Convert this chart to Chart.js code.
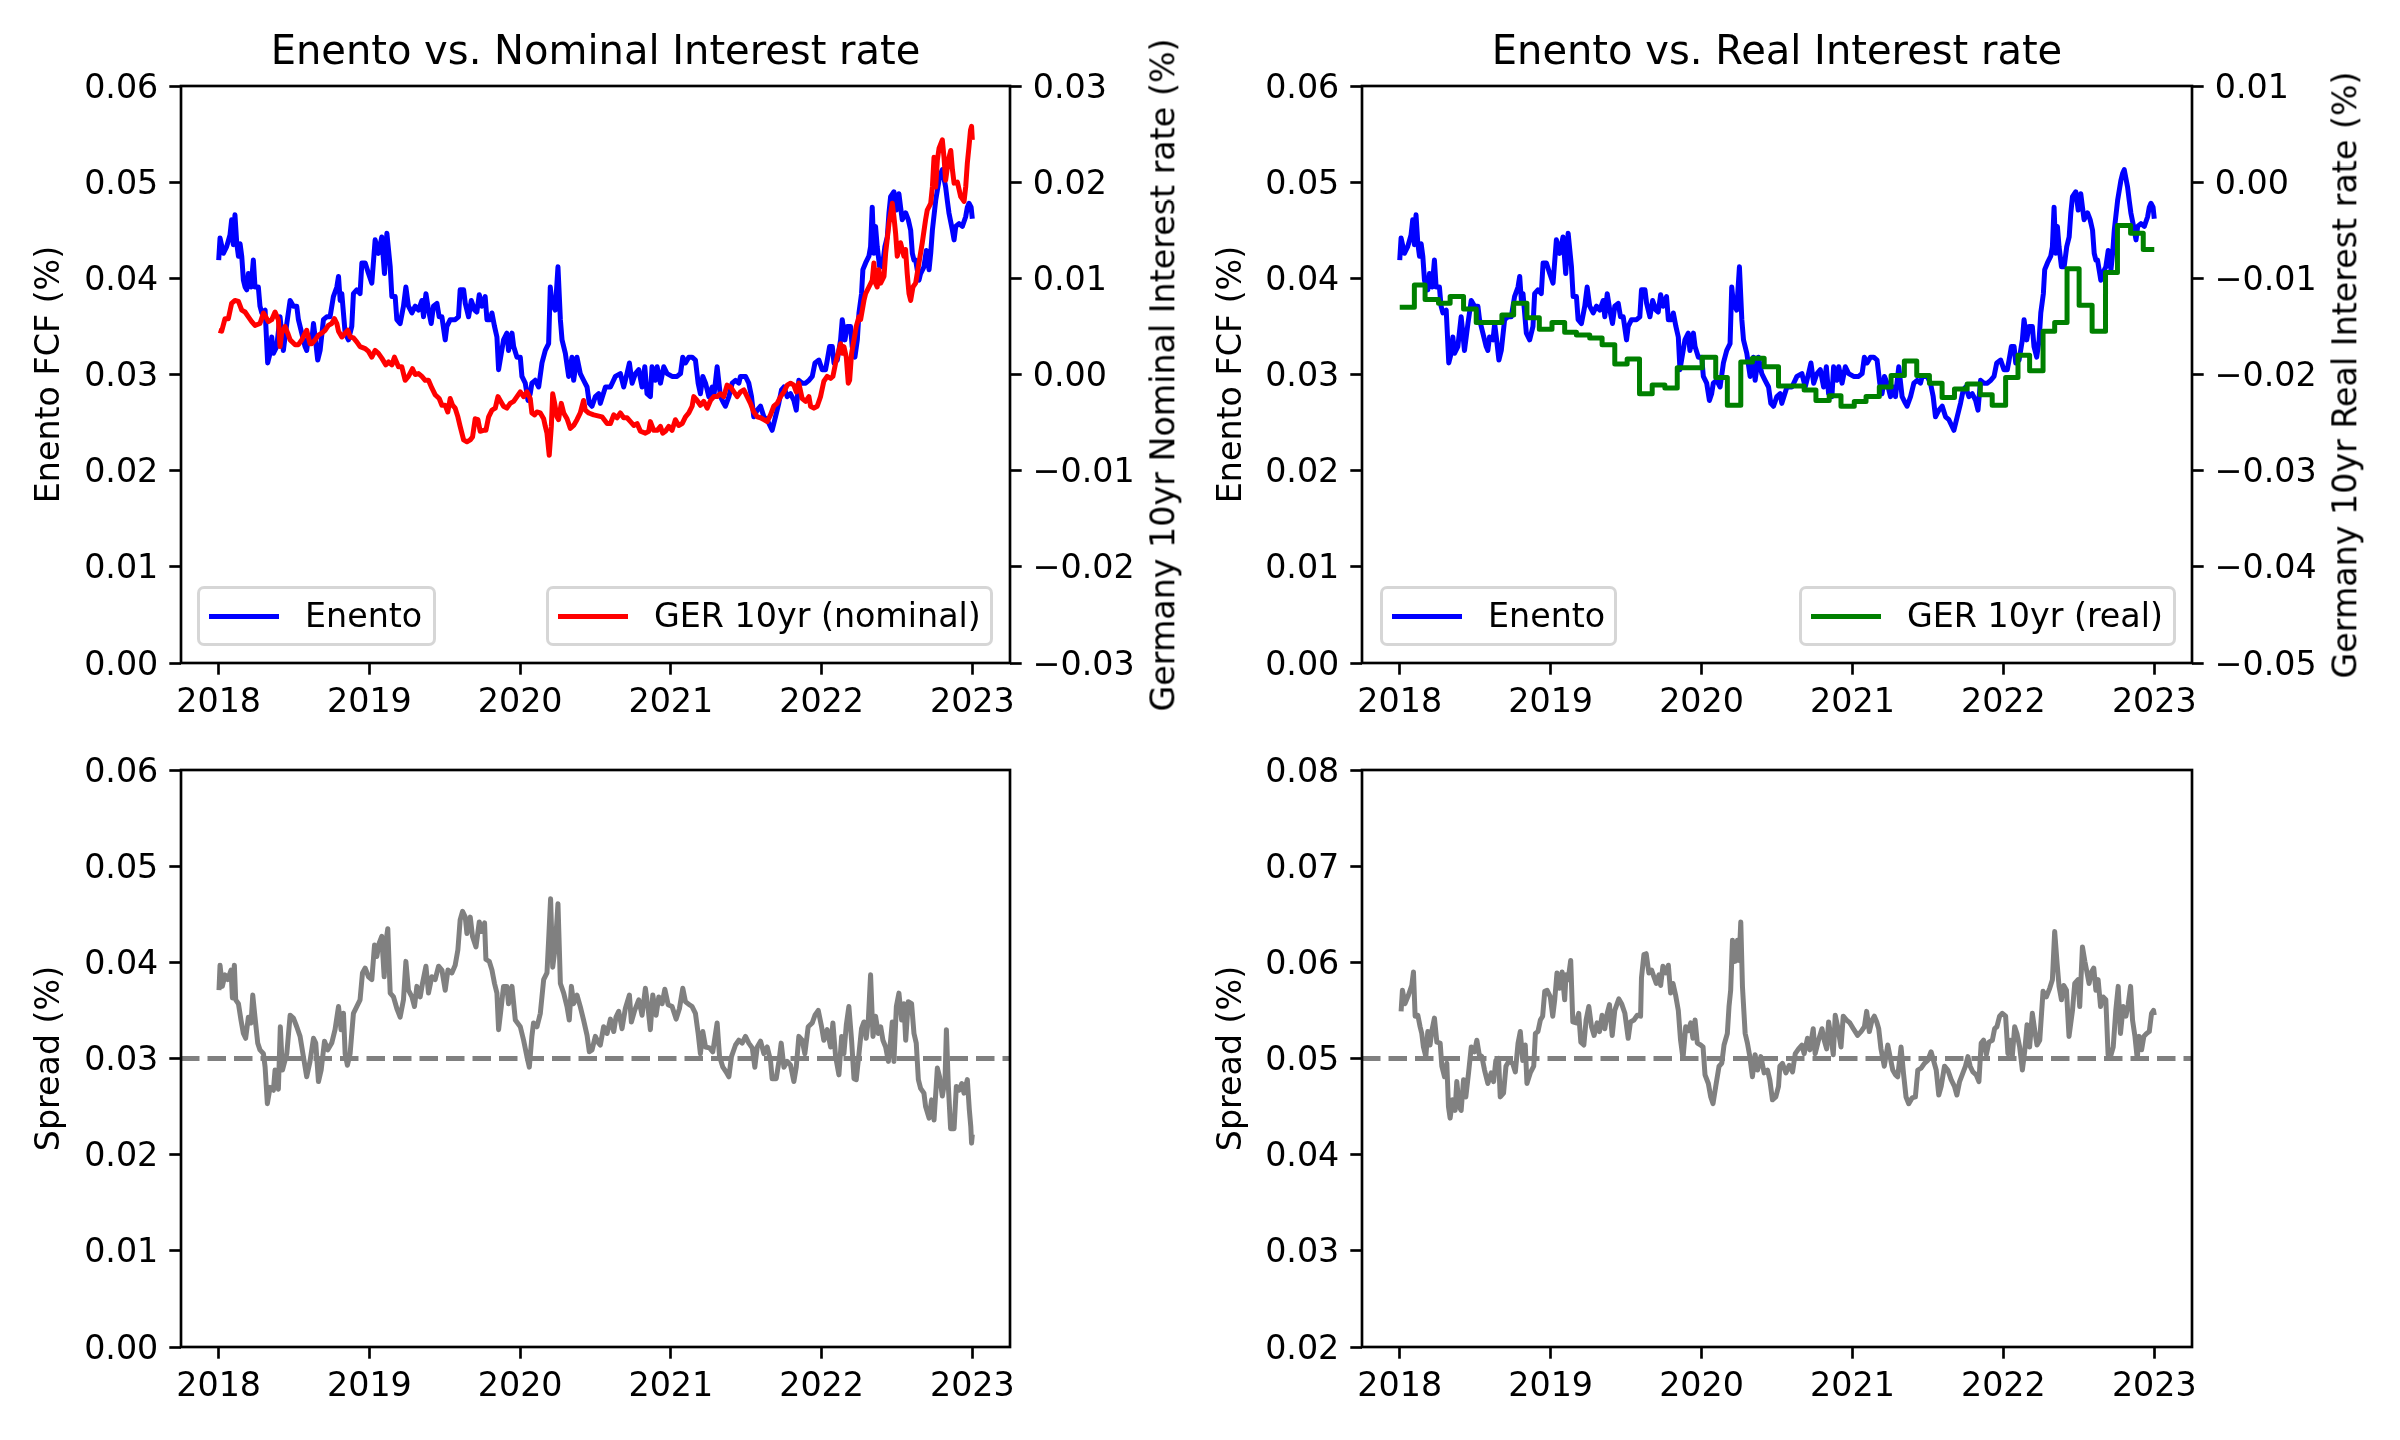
<!DOCTYPE html>
<html><head><meta charset="utf-8">
<script src="https://cdn.jsdelivr.net/npm/chart.js@4.4.0/dist/chart.umd.min.js"></script>
<style>
html,body{margin:0;padding:0;background:#fff;}
#fig{position:relative;width:2400px;height:1440px;overflow:hidden;background:#fff;font-family:'DejaVu Sans',sans-serif;color:#000;}
canvas{position:absolute;}
.leg{position:absolute;box-sizing:border-box;border:3px solid rgba(204,204,204,0.8);border-radius:7px;background:rgba(255,255,255,0.8);}
.leg .ln{position:absolute;height:5px;top:50%;margin-top:-2.5px;}
.leg .tx{position:absolute;top:50%;transform:translateY(-50%);font-size:33.3px;line-height:1;white-space:nowrap;}
.rlab{position:absolute;font-size:33.3px;white-space:nowrap;transform:translate(-50%,-50%) rotate(-90deg);line-height:1;}
</style></head>
<body><div id="fig">
<canvas id="c1" width="1200" height="720" style="left:0;top:0;width:1200px;height:720px"></canvas>
<canvas id="c2" width="1200" height="720" style="left:1200px;top:0;width:1200px;height:720px"></canvas>
<canvas id="c3" width="1200" height="720" style="left:0;top:720px;width:1200px;height:720px"></canvas>
<canvas id="c4" width="1200" height="720" style="left:1200px;top:720px;width:1200px;height:720px"></canvas>
</div>
<script>
// ---------- DATA ----------
const yearTicks = [2018, 2019, 2020, 2021, 2022, 2023];
const xRange = [2017.75, 2023.25];
const fcfTicks = [0.00, 0.01, 0.02, 0.03, 0.04, 0.05, 0.06];
const nominalTicks = [-0.03, -0.02, -0.01, 0.00, 0.01, 0.02, 0.03];
const realTicks = [-0.05, -0.04, -0.03, -0.02, -0.01, 0.00, 0.01];
const spreadNomTicks = [0.00, 0.01, 0.02, 0.03, 0.04, 0.05, 0.06];
const spreadRealTicks = [0.02, 0.03, 0.04, 0.05, 0.06, 0.07, 0.08];
const spreadNomRef = 0.03;
const spreadRealRef = 0.05;

const enentoT = [2018.000,2018.009,2018.031,2018.053,2018.075,2018.086,2018.097,2018.108,2018.120,2018.131,2018.142,2018.153,2018.164,2018.175,2018.186,2018.197,2018.215,2018.230,2018.241,2018.263,2018.274,2018.286,2018.308,2018.325,2018.341,2018.352,2018.363,2018.385,2018.407,2018.418,2018.429,2018.452,2018.474,2018.496,2018.518,2018.529,2018.551,2018.573,2018.584,2018.595,2018.618,2018.629,2018.640,2018.657,2018.673,2018.695,2018.717,2018.739,2018.761,2018.784,2018.795,2018.806,2018.817,2018.839,2018.861,2018.883,2018.894,2018.916,2018.938,2018.950,2018.972,2018.994,2019.016,2019.038,2019.060,2019.082,2019.100,2019.116,2019.138,2019.149,2019.171,2019.182,2019.204,2019.226,2019.242,2019.259,2019.282,2019.304,2019.326,2019.348,2019.359,2019.375,2019.392,2019.410,2019.425,2019.448,2019.463,2019.481,2019.503,2019.514,2019.536,2019.569,2019.591,2019.602,2019.625,2019.636,2019.658,2019.676,2019.698,2019.713,2019.729,2019.746,2019.768,2019.780,2019.802,2019.813,2019.830,2019.846,2019.857,2019.875,2019.890,2019.912,2019.923,2019.946,2019.957,2019.979,2020.001,2020.012,2020.034,2020.052,2020.067,2020.078,2020.100,2020.123,2020.145,2020.167,2020.189,2020.200,2020.211,2020.233,2020.251,2020.267,2020.278,2020.300,2020.322,2020.344,2020.355,2020.377,2020.399,2020.421,2020.444,2020.459,2020.477,2020.499,2020.521,
2020.532,2020.566,2020.599,2020.632,2020.665,2020.687,2020.709,2020.725,2020.743,2020.765,2020.787,2020.809,2020.827,2020.842,2020.864,2020.875,2020.898,2020.909,2020.931,2020.953,2020.975,2021.008,2021.041,2021.064,2021.079,2021.097,2021.119,2021.141,2021.163,2021.181,2021.196,2021.212,2021.230,2021.252,2021.274,2021.285,2021.307,2021.329,2021.351,2021.362,2021.385,2021.407,2021.429,2021.451,2021.462,2021.495,2021.517,2021.535,2021.550,2021.573,2021.595,2021.617,2021.639,2021.672,2021.694,2021.716,2021.734,2021.750,2021.772,2021.794,2021.816,2021.832,2021.849,2021.871,2021.894,2021.916,2021.938,2021.956,2021.982,2022.004,2022.026,2022.038,2022.053,2022.071,2022.082,2022.104,2022.126,2022.137,2022.155,2022.170,2022.192,2022.203,2022.221,2022.237,2022.248,2022.265,2022.274,2022.292,2022.314,2022.325,2022.336,2022.347,2022.358,2022.369,2022.385,2022.403,2022.420,2022.436,2022.447,2022.458,2022.480,2022.496,2022.513,2022.524,2022.535,2022.558,2022.575,2022.591,2022.602,2022.613,2022.624,2022.646,2022.657,2022.679,2022.695,2022.713,2022.724,2022.735,2022.757,2022.779,2022.790,2022.801,2022.823,2022.834,2022.845,2022.868,2022.879,2022.890,2022.912,2022.934,2022.956,2022.967,2022.978,2022.992,2023.000];
const enentoFCF = [0.0419,0.0442,0.0426,0.0433,0.0445,0.0461,0.0435,0.0466,0.0436,0.0423,0.0436,0.0423,0.0398,0.0391,0.0388,0.0405,0.0391,0.0419,0.0391,0.0391,0.0371,0.0364,0.0367,0.0312,0.0322,0.0339,0.0322,0.0329,0.0360,0.0343,0.0325,0.0353,0.0377,0.0371,0.0371,0.0357,0.0343,0.0329,0.0325,0.0339,0.0336,0.0353,0.0339,0.0315,0.0325,0.0357,0.0360,0.0360,0.0381,0.0391,0.0402,0.0377,0.0384,0.0343,0.0336,0.0350,0.0384,0.0388,0.0384,0.0416,0.0416,0.0405,0.0395,0.0440,0.0426,0.0443,0.0405,0.0447,0.0412,0.0381,0.0381,0.0357,0.0353,0.0371,0.0391,0.0371,0.0364,0.0371,0.0367,0.0377,0.0360,0.0384,0.0367,0.0353,0.0371,0.0374,0.0360,0.0360,0.0336,0.0350,0.0357,0.0357,0.0360,0.0388,0.0388,0.0374,0.0360,0.0377,0.0367,0.0365,0.0383,0.0371,0.0381,0.0357,0.0357,0.0364,0.0350,0.0339,0.0305,0.0322,0.0336,0.0343,0.0325,0.0343,0.0329,0.0318,0.0318,0.0298,0.0291,0.0273,0.0280,0.0291,0.0294,0.0287,0.0312,0.0325,0.0332,0.0391,0.0374,0.0367,0.0412,0.0357,0.0336,0.0322,0.0298,0.0318,0.0294,0.0318,0.0301,0.0294,0.0287,0.0270,0.0267,0.0277,0.0280,
0.0270,0.0287,0.0287,0.0298,0.0301,0.0287,0.0301,0.0312,0.0291,0.0301,0.0305,0.0287,0.0308,0.0280,0.0277,0.0308,0.0294,0.0308,0.0291,0.0308,0.0301,0.0298,0.0298,0.0301,0.0318,0.0312,0.0318,0.0318,0.0315,0.0291,0.0280,0.0298,0.0291,0.0277,0.0287,0.0277,0.0308,0.0277,0.0270,0.0267,0.0277,0.0291,0.0294,0.0291,0.0298,0.0298,0.0291,0.0277,0.0256,0.0263,0.0267,0.0256,0.0253,0.0242,0.0256,0.0270,0.0284,0.0287,0.0277,0.0280,0.0273,0.0263,0.0294,0.0291,0.0291,0.0294,0.0298,0.0312,0.0315,0.0305,0.0305,0.0315,0.0329,0.0329,0.0312,0.0315,0.0336,0.0357,0.0336,0.0350,0.0350,0.0329,0.0318,0.0336,0.0364,0.0384,0.0409,0.0416,0.0423,0.0433,0.0474,0.0426,0.0454,0.0433,0.0412,0.0412,0.0433,0.0443,0.0468,0.0485,0.0490,0.0471,0.0488,0.0474,0.0461,0.0468,0.0461,0.0450,0.0426,0.0419,0.0419,0.0398,0.0405,0.0412,0.0429,0.0409,0.0426,0.0450,0.0481,0.0502,0.0509,0.0513,0.0495,0.0481,0.0468,0.0450,0.0440,0.0454,0.0457,0.0454,0.0464,0.0474,0.0478,0.0474,0.0462];

const nominalT = [2018.000,2018.020,2018.042,2018.064,2018.086,2018.108,2018.131,2018.153,2018.175,2018.197,2018.219,2018.241,2018.274,2018.297,2018.312,2018.330,2018.352,2018.374,2018.396,2018.407,2018.418,2018.440,2018.458,2018.474,2018.507,2018.529,2018.551,2018.573,2018.584,2018.606,2018.618,2018.640,2018.662,2018.684,2018.706,2018.728,2018.750,2018.768,2018.784,2018.795,2018.817,2018.839,2018.857,2018.872,2018.894,2018.916,2018.938,2018.972,2018.994,2019.016,2019.038,2019.060,2019.082,2019.109,2019.127,2019.149,2019.166,2019.193,2019.215,2019.237,2019.259,2019.286,2019.304,2019.326,2019.348,2019.370,2019.392,2019.414,2019.436,2019.463,2019.481,2019.503,2019.520,2019.536,2019.552,2019.569,2019.587,2019.602,2019.625,2019.647,2019.669,2019.684,2019.702,2019.720,2019.735,2019.757,2019.773,2019.791,2019.813,2019.835,2019.853,2019.868,2019.890,2019.912,2019.934,2019.957,2019.979,2020.001,2020.023,2020.045,2020.067,2020.078,2020.096,2020.111,2020.134,2020.156,2020.167,2020.178,2020.193,2020.207,2020.216,2020.229,2020.244,2020.255,2020.273,2020.289,2020.311,2020.333,2020.355,2020.377,2020.399,2020.421,2020.432,2020.455,2020.488,
2020.543,2020.577,2020.599,2020.621,2020.643,2020.665,2020.687,2020.709,2020.732,2020.754,2020.776,2020.798,2020.831,2020.853,2020.864,2020.886,2020.909,2020.931,2020.946,2020.964,2020.986,2021.008,2021.030,2021.052,2021.075,2021.097,2021.119,2021.141,2021.152,2021.174,2021.196,2021.218,2021.241,2021.263,2021.285,2021.307,2021.329,2021.351,2021.373,2021.396,2021.418,2021.440,2021.462,2021.484,2021.506,2021.528,2021.550,2021.573,2021.595,2021.617,2021.639,2021.661,2021.683,2021.705,2021.728,2021.750,2021.772,2021.794,2021.816,2021.832,2021.849,2021.871,2021.894,2021.916,2021.927,2021.949,2021.971,2021.993,2022.015,2022.037,2022.060,2022.075,2022.093,2022.115,2022.126,2022.137,2022.148,2022.164,2022.177,2022.186,2022.199,2022.215,2022.230,2022.248,2022.259,2022.270,2022.281,2022.292,2022.314,2022.336,2022.347,2022.358,2022.369,2022.380,2022.392,2022.414,2022.425,2022.447,2022.469,2022.480,2022.491,2022.502,2022.524,2022.546,2022.557,2022.568,2022.580,2022.591,2022.606,2022.624,2022.646,2022.668,2022.690,2022.701,2022.724,2022.735,2022.746,2022.757,2022.768,2022.779,2022.801,2022.812,2022.823,2022.841,2022.857,2022.868,2022.879,2022.901,2022.923,2022.945,2022.956,2022.967,2022.978,2022.988,2022.995,2023.000];
const nominalRate = [0.0046,0.0045,0.0058,0.0058,0.0074,0.0077,0.0076,0.0067,0.0065,0.0060,0.0055,0.0051,0.0053,0.0064,0.0060,0.0055,0.0057,0.0065,0.0057,0.0029,0.0043,0.0050,0.0043,0.0036,0.0031,0.0031,0.0036,0.0043,0.0046,0.0032,0.0032,0.0036,0.0041,0.0043,0.0046,0.0051,0.0053,0.0058,0.0053,0.0045,0.0039,0.0043,0.0046,0.0039,0.0038,0.0034,0.0029,0.0027,0.0024,0.0018,0.0025,0.0022,0.0017,0.0010,0.0013,0.0010,0.0018,0.0008,0.0008,-0.0006,-0.0002,0.0006,0.0000,0.0001,-0.0002,-0.0006,-0.0006,-0.0014,-0.0021,-0.0025,-0.0032,-0.0032,-0.0039,-0.0025,-0.0032,-0.0035,-0.0044,-0.0054,-0.0068,-0.0070,-0.0068,-0.0065,-0.0046,-0.0047,-0.0059,-0.0058,-0.0058,-0.0044,-0.0037,-0.0035,-0.0023,-0.0027,-0.0033,-0.0035,-0.0030,-0.0028,-0.0023,-0.0018,-0.0023,-0.0018,-0.0025,-0.0040,-0.0042,-0.0039,-0.0040,-0.0046,-0.0054,-0.0061,-0.0084,-0.0054,-0.0020,-0.0030,-0.0044,-0.0047,-0.0030,-0.0040,-0.0046,-0.0056,-0.0053,-0.0047,-0.0040,-0.0027,-0.0037,-0.0040,-0.0042,
-0.0044,-0.0051,-0.0051,-0.0042,-0.0045,-0.0040,-0.0045,-0.0045,-0.0049,-0.0053,-0.0051,-0.0059,-0.0061,-0.0059,-0.0049,-0.0058,-0.0058,-0.0054,-0.0061,-0.0059,-0.0054,-0.0058,-0.0047,-0.0053,-0.0051,-0.0044,-0.0040,-0.0033,-0.0023,-0.0027,-0.0032,-0.0028,-0.0035,-0.0027,-0.0023,-0.0023,-0.0020,-0.0023,-0.0011,-0.0013,-0.0018,-0.0023,-0.0018,-0.0016,-0.0023,-0.0030,-0.0039,-0.0044,-0.0045,-0.0047,-0.0049,-0.0042,-0.0033,-0.0030,-0.0023,-0.0018,-0.0011,-0.0009,-0.0011,-0.0018,-0.0009,-0.0025,-0.0028,-0.0023,-0.0033,-0.0035,-0.0033,-0.0023,-0.0007,-0.0002,-0.0004,-0.0002,0.0012,0.0025,0.0032,0.0022,0.0029,0.0018,-0.0009,-0.0006,0.0022,0.0036,0.0050,0.0060,0.0057,0.0067,0.0077,0.0084,0.0091,0.0098,0.0116,0.0095,0.0091,0.0109,0.0095,0.0102,0.0126,0.0157,0.0178,0.0164,0.0147,0.0123,0.0137,0.0123,0.0130,0.0105,0.0084,0.0077,0.0091,0.0095,0.0116,0.0137,0.0161,0.0171,0.0178,0.0195,0.0226,0.0195,0.0223,0.0235,0.0244,0.0226,0.0202,0.0223,0.0233,0.0213,0.0199,0.0200,0.0185,0.0180,0.0195,0.0220,0.0237,0.0254,0.0258,0.0244];

const realT = [2018.000,2018.097,2018.168,2018.257,2018.334,2018.423,2018.507,2018.677,2018.755,2018.843,2018.925,2019.009,2019.093,2019.171,2019.259,2019.341,2019.425,2019.507,2019.589,2019.673,2019.757,2019.839,2020.005,2020.094,2020.171,2020.260,2020.337,2020.415,2020.510,2020.680,2020.758,2020.846,2020.924,2021.012,2021.090,2021.178,2021.256,2021.344,2021.426,2021.510,2021.594,2021.676,2021.760,2021.847,2021.926,2022.015,2022.097,2022.174,2022.263,2022.340,2022.422,2022.502,2022.588,2022.677,2022.756,2022.843,2022.927,2023.000];
const realRate = [-0.0130,-0.0107,-0.0122,-0.0126,-0.0119,-0.0132,-0.0146,-0.0138,-0.0126,-0.0141,-0.0153,-0.0146,-0.0156,-0.0159,-0.0162,-0.0169,-0.0189,-0.0184,-0.0220,-0.0211,-0.0214,-0.0193,-0.0182,-0.0203,-0.0232,-0.0187,-0.0183,-0.0192,-0.0212,-0.0216,-0.0227,-0.0222,-0.0233,-0.0228,-0.0223,-0.0213,-0.0201,-0.0186,-0.0201,-0.0209,-0.0224,-0.0215,-0.0210,-0.0221,-0.0232,-0.0203,-0.0180,-0.0196,-0.0155,-0.0146,-0.0090,-0.0128,-0.0155,-0.0094,-0.0045,-0.0053,-0.0070,-0.0070];

const spreadNomT = [2018.002,2018.009,2018.024,2018.042,2018.060,2018.082,2018.091,2018.104,2018.113,2018.131,2018.148,2018.164,2018.179,2018.197,2018.215,2018.226,2018.241,2018.259,2018.274,2018.297,2018.308,2018.323,2018.341,2018.363,2018.374,2018.396,2018.409,2018.423,2018.452,2018.474,2018.496,2018.518,2018.540,2018.562,2018.584,2018.606,2018.629,2018.644,2018.662,2018.680,2018.702,2018.724,2018.750,2018.772,2018.795,2018.812,2018.828,2018.839,2018.854,2018.872,2018.894,2018.916,2018.938,2018.954,2018.972,2018.994,2019.016,2019.034,2019.049,2019.065,2019.082,2019.098,2019.111,2019.122,2019.138,2019.160,2019.182,2019.204,2019.226,2019.242,2019.259,2019.282,2019.299,2019.315,2019.337,2019.352,2019.375,2019.392,2019.414,2019.436,2019.459,2019.481,2019.503,2019.521,2019.547,2019.569,2019.587,2019.602,2019.618,2019.636,2019.647,2019.669,2019.684,2019.707,2019.729,2019.746,2019.764,2019.773,2019.795,2019.813,2019.830,2019.846,2019.857,2019.875,2019.890,2019.912,2019.923,2019.946,2019.968,2020.001,2020.023,2020.045,2020.061,2020.078,2020.089,2020.112,2020.134,2020.156,2020.178,2020.189,2020.202,2020.216,2020.233,2020.251,2020.267,2020.289,2020.311,2020.326,2020.340,2020.355,2020.377,2020.399,2020.421,2020.444,2020.459,2020.477,2020.499,2020.521,
2020.532,2020.554,2020.577,2020.599,2020.621,2020.636,2020.654,2020.676,2020.698,2020.725,2020.738,2020.760,2020.787,2020.809,2020.831,2020.849,2020.864,2020.880,2020.902,2020.920,2020.942,2020.960,2020.982,2021.008,2021.035,2021.057,2021.079,2021.097,2021.123,2021.141,2021.163,2021.181,2021.196,2021.212,2021.230,2021.256,2021.278,2021.307,2021.323,2021.345,2021.367,2021.385,2021.402,2021.429,2021.451,2021.473,2021.495,2021.517,2021.540,2021.557,2021.573,2021.595,2021.617,2021.639,2021.661,2021.672,2021.699,2021.717,2021.732,2021.750,2021.772,2021.794,2021.816,2021.832,2021.849,2021.871,2021.889,2021.911,2021.938,2021.956,2021.978,2022.000,2022.015,2022.037,2022.060,2022.075,2022.093,2022.115,2022.133,2022.148,2022.164,2022.181,2022.199,2022.215,2022.230,2022.248,2022.265,2022.281,2022.296,2022.310,2022.325,2022.341,2022.358,2022.376,2022.392,2022.407,2022.425,2022.443,2022.458,2022.469,2022.480,2022.496,2022.513,2022.531,2022.546,2022.558,2022.575,2022.597,2022.613,2022.628,2022.642,2022.657,2022.679,2022.690,2022.713,2022.730,2022.746,2022.768,2022.783,2022.801,2022.819,2022.828,2022.841,2022.856,2022.879,2022.894,2022.912,2022.930,2022.945,2022.967,2022.980,2022.990,2022.995,2023.000];
const spreadNom = [0.0371,0.0397,0.0375,0.0387,0.0382,0.0392,0.0363,0.0397,0.0361,0.0357,0.0340,0.0326,0.0321,0.0343,0.0337,0.0366,0.0343,0.0316,0.0309,0.0305,0.0291,0.0253,0.0270,0.0267,0.0288,0.0268,0.0333,0.0288,0.0305,0.0345,0.0342,0.0333,0.0323,0.0302,0.0281,0.0297,0.0321,0.0316,0.0276,0.0288,0.0318,0.0309,0.0316,0.0330,0.0354,0.0330,0.0347,0.0305,0.0293,0.0305,0.0347,0.0354,0.0361,0.0389,0.0394,0.0385,0.0382,0.0418,0.0406,0.0420,0.0427,0.0385,0.0423,0.0435,0.0368,0.0364,0.0352,0.0343,0.0361,0.0401,0.0371,0.0364,0.0354,0.0375,0.0364,0.0378,0.0396,0.0368,0.0385,0.0382,0.0396,0.0392,0.0371,0.0392,0.0389,0.0397,0.0413,0.0444,0.0453,0.0447,0.0430,0.0447,0.0427,0.0416,0.0442,0.0432,0.0441,0.0403,0.0401,0.0392,0.0378,0.0368,0.0330,0.0354,0.0375,0.0375,0.0357,0.0375,0.0340,0.0333,0.0319,0.0302,0.0291,0.0323,0.0337,0.0333,0.0347,0.0382,0.0389,0.0423,0.0466,0.0395,0.0416,0.0461,0.0378,0.0368,0.0354,0.0340,0.0375,0.0357,0.0366,0.0354,0.0340,0.0324,0.0307,0.0309,0.0323,0.0316,
0.0314,0.0333,0.0326,0.0341,0.0328,0.0343,0.0349,0.0331,0.0352,0.0366,0.0338,0.0350,0.0361,0.0345,0.0373,0.0352,0.0330,0.0366,0.0345,0.0364,0.0357,0.0372,0.0356,0.0354,0.0341,0.0352,0.0373,0.0359,0.0356,0.0354,0.0347,0.0326,0.0305,0.0328,0.0312,0.0311,0.0307,0.0337,0.0302,0.0291,0.0286,0.0281,0.0302,0.0314,0.0319,0.0316,0.0323,0.0316,0.0311,0.0291,0.0312,0.0318,0.0305,0.0312,0.0298,0.0279,0.0279,0.0297,0.0316,0.0291,0.0297,0.0293,0.0276,0.0291,0.0323,0.0319,0.0305,0.0333,0.0337,0.0345,0.0350,0.0333,0.0319,0.0330,0.0312,0.0337,0.0302,0.0283,0.0323,0.0305,0.0335,0.0354,0.0319,0.0279,0.0278,0.0305,0.0331,0.0338,0.0321,0.0340,0.0387,0.0323,0.0344,0.0326,0.0333,0.0319,0.0312,0.0297,0.0319,0.0338,0.0297,0.0354,0.0368,0.0340,0.0357,0.0319,0.0359,0.0357,0.0326,0.0316,0.0278,0.0269,0.0264,0.0250,0.0238,0.0257,0.0236,0.0290,0.0281,0.0261,0.0278,0.0330,0.0271,0.0227,0.0227,0.0271,0.0267,0.0274,0.0264,0.0278,0.0247,0.0229,0.0212,0.0221];

const spreadRealT = [2018.009,2018.018,2018.035,2018.058,2018.080,2018.091,2018.102,2018.120,2018.135,2018.146,2018.157,2018.173,2018.186,2018.201,2018.212,2018.230,2018.246,2018.268,2018.279,2018.297,2018.312,2018.323,2018.334,2018.350,2018.367,2018.378,2018.394,2018.407,2018.423,2018.438,2018.456,2018.474,2018.496,2018.511,2018.527,2018.544,2018.562,2018.584,2018.606,2018.622,2018.637,2018.655,2018.666,2018.688,2018.704,2018.722,2018.748,2018.766,2018.784,2018.799,2018.815,2018.832,2018.843,2018.865,2018.888,2018.899,2018.916,2018.932,2018.947,2018.961,2018.976,2018.998,2019.014,2019.027,2019.042,2019.058,2019.076,2019.093,2019.102,2019.116,2019.133,2019.147,2019.169,2019.186,2019.200,2019.220,2019.235,2019.253,2019.271,2019.288,2019.308,2019.324,2019.341,2019.359,2019.375,2019.390,2019.408,2019.425,2019.452,2019.470,2019.492,2019.514,2019.529,2019.552,2019.574,2019.596,2019.602,2019.618,2019.633,2019.651,2019.669,2019.684,2019.700,2019.718,2019.729,2019.744,2019.762,2019.780,2019.795,2019.811,2019.828,2019.846,2019.861,2019.877,2019.895,2019.912,2019.928,2019.943,2019.957,2019.972,2019.994,2020.010,2020.023,2020.045,2020.061,2020.076,2020.094,2020.116,2020.134,2020.149,2020.171,2020.182,2020.193,2020.205,2020.222,2020.238,2020.249,2020.260,2020.271,2020.289,2020.304,2020.320,2020.337,2020.355,2020.371,2020.393,2020.415,2020.437,2020.452,2020.470,2020.492,2020.510,2020.519,
2020.536,2020.559,2020.581,2020.603,2020.621,2020.643,2020.665,2020.680,2020.702,2020.718,2020.740,2020.753,2020.775,2020.798,2020.813,2020.829,2020.842,2020.857,2020.873,2020.886,2020.902,2020.924,2020.939,2020.961,2020.983,2021.006,2021.034,2021.057,2021.079,2021.094,2021.112,2021.130,2021.145,2021.161,2021.174,2021.189,2021.211,2021.234,2021.249,2021.267,2021.285,2021.300,2021.322,2021.338,2021.355,2021.373,2021.395,2021.417,2021.433,2021.455,2021.477,2021.499,2021.521,2021.537,2021.555,2021.572,2021.588,2021.610,2021.632,2021.654,2021.676,2021.692,2021.710,2021.732,2021.749,2021.765,2021.780,2021.798,2021.820,2021.838,2021.853,2021.869,2021.887,2021.904,2021.927,2021.942,2021.957,2021.975,2021.993,2022.015,2022.030,2022.046,2022.059,2022.075,2022.090,2022.108,2022.126,2022.141,2022.157,2022.174,2022.192,2022.208,2022.223,2022.241,2022.263,2022.285,2022.307,2022.325,2022.340,2022.356,2022.369,2022.385,2022.400,2022.418,2022.435,2022.458,2022.473,2022.495,2022.506,2022.524,2022.540,2022.555,2022.568,2022.584,2022.599,2022.613,2022.628,2022.644,2022.661,2022.679,2022.694,2022.710,2022.728,2022.745,2022.761,2022.776,2022.794,2022.812,2022.827,2022.843,2022.856,2022.872,2022.887,2022.900,2022.916,2022.931,2022.949,2022.967,2022.982,2022.995,2023.000];
const spreadReal = [0.0549,0.0571,0.0557,0.0566,0.0576,0.0590,0.0544,0.0545,0.0533,0.0526,0.0512,0.0502,0.0528,0.0514,0.0528,0.0542,0.0517,0.0516,0.0492,0.0481,0.0495,0.0450,0.0438,0.0457,0.0446,0.0476,0.0450,0.0446,0.0478,0.0460,0.0485,0.0512,0.0507,0.0519,0.0504,0.0502,0.0488,0.0474,0.0485,0.0476,0.0498,0.0500,0.0460,0.0464,0.0492,0.0497,0.0495,0.0486,0.0516,0.0528,0.0498,0.0514,0.0474,0.0485,0.0492,0.0526,0.0528,0.0540,0.0544,0.0570,0.0571,0.0564,0.0544,0.0561,0.0589,0.0573,0.0590,0.0561,0.0587,0.0582,0.0602,0.0538,0.0537,0.0547,0.0517,0.0514,0.0540,0.0554,0.0533,0.0524,0.0537,0.0528,0.0545,0.0531,0.0547,0.0556,0.0524,0.0550,0.0562,0.0557,0.0547,0.0521,0.0538,0.0540,0.0545,0.0544,0.0584,0.0608,0.0609,0.0589,0.0592,0.0585,0.0578,0.0587,0.0576,0.0596,0.0589,0.0597,0.0568,0.0578,0.0566,0.0550,0.0519,0.0500,0.0533,0.0529,0.0537,0.0521,0.0540,0.0516,0.0514,0.0512,0.0483,0.0474,0.0460,0.0453,0.0471,0.0492,0.0495,0.0514,0.0526,0.0554,0.0571,0.0623,0.0601,0.0623,0.0602,0.0642,0.0575,0.0526,0.0516,0.0502,0.0481,0.0504,0.0488,0.0502,0.0485,0.0488,0.0478,0.0457,0.0460,0.0471,0.0492,
0.0495,0.0485,0.0493,0.0486,0.0505,0.0510,0.0514,0.0505,0.0521,0.0509,0.0531,0.0505,0.0519,0.0531,0.0519,0.0510,0.0538,0.0523,0.0504,0.0545,0.0533,0.0512,0.0544,0.0540,0.0537,0.0531,0.0524,0.0528,0.0533,0.0549,0.0528,0.0540,0.0544,0.0538,0.0531,0.0510,0.0492,0.0514,0.0502,0.0488,0.0483,0.0481,0.0512,0.0485,0.0460,0.0453,0.0459,0.0460,0.0488,0.0490,0.0495,0.0498,0.0507,0.0498,0.0488,0.0462,0.0471,0.0492,0.0488,0.0478,0.0471,0.0462,0.0476,0.0485,0.0492,0.0502,0.0492,0.0486,0.0483,0.0476,0.0516,0.0519,0.0504,0.0517,0.0519,0.0531,0.0533,0.0544,0.0547,0.0544,0.0505,0.0519,0.0502,0.0533,0.0526,0.0512,0.0488,0.0507,0.0535,0.0512,0.0547,0.0529,0.0514,0.0519,0.0570,0.0564,0.0573,0.0582,0.0632,0.0599,0.0575,0.0561,0.0576,0.0571,0.0523,0.0550,0.0578,0.0582,0.0554,0.0616,0.0601,0.0589,0.0578,0.0590,0.0594,0.0571,0.0582,0.0554,0.0564,0.0561,0.0504,0.0502,0.0512,0.0550,0.0575,0.0526,0.0554,0.0544,0.0556,0.0575,0.0540,0.0523,0.0500,0.0523,0.0509,0.0523,0.0526,0.0528,0.0547,0.0550,0.0545];

// ---------- STYLE / HELPERS ----------
const FONT = 'DejaVu Sans';
const FS = 33.3;
const BLUE = '#0000ff', RED = '#ff0000', GREEN = '#008000', GRAY = '#808080';
const pts = (ts, vs) => ts.map((t, i) => ({x: t, y: vs[i]}));
const fmt = v => { if (Math.abs(v) < 1e-9) v = 0; return v.toFixed(2).replace('-', '\u2212'); };
const gridOpts = {drawOnChartArea: false, drawTicks: true, tickLength: 11.7, tickWidth: 2.67, tickColor: '#000'};

function xAxis(height) {
  return {
    type: 'linear', position: 'bottom', min: xRange[0], max: xRange[1],
    afterBuildTicks: s => { s.ticks = yearTicks.map(v => ({value: v})); },
    afterFit: s => { s.height = height; },
    grid: gridOpts, border: {display: false},
    ticks: {color: '#000', font: {family: FONT, size: FS}, padding: 9, maxRotation: 0, autoSkip: false, callback: v => String(v)}
  };
}
function yAxis(pos, ticks, width, title, titlePad) {
  return {
    type: 'linear', position: pos, min: ticks[0], max: ticks[ticks.length - 1],
    afterBuildTicks: s => { s.ticks = ticks.map(v => ({value: v})); },
    afterFit: s => { s.width = width; },
    grid: gridOpts, border: {display: false},
    ticks: {color: '#000', font: {family: FONT, size: FS}, padding: 11, labelOffset: 3, autoSkip: false, callback: v => fmt(v)},
    title: title ? {display: true, text: title, color: '#000', font: {family: FONT, size: FS}, padding: {top: titlePad, bottom: 0}} : {display: false}
  };
}
const framePlugin = {
  id: 'frame',
  afterDatasetsDraw(chart) {
    const {ctx, chartArea: a} = chart;
    ctx.save(); ctx.strokeStyle = '#000'; ctx.lineWidth = 2.67;
    ctx.strokeRect(a.left, a.top, a.right - a.left, a.bottom - a.top);
    ctx.restore();
  }
};
function line(label, data, color, axis, order, extra) {
  return Object.assign({label, data, borderColor: color, backgroundColor: color, borderWidth: 5, pointRadius: 0,
    tension: 0, fill: false, borderJoinStyle: 'round', yAxisID: axis, order}, extra || {});
}
function makeChart(id, datasets, scales, padding, title) {
  return new Chart(document.getElementById(id), {
    type: 'line',
    data: {datasets},
    options: {
      responsive: false, animation: false, devicePixelRatio: 1,
      layout: {padding},
      plugins: {
        legend: {display: false}, tooltip: {enabled: false},
        title: title ? {display: true, text: title, fullSize: false, color: '#000',
          font: {family: FONT, size: 40, weight: 'normal'}, padding: {top: 30, bottom: 8}} : {display: false}
      },
      scales
    },
    plugins: [framePlugin]
  });
}

const LBL_ENENTO = 'Enento', LBL_NOM = 'GER 10yr (nominal)', LBL_REAL = 'GER 10yr (real)';

// Top-left
makeChart('c1', [
  line(LBL_ENENTO, pts(enentoT, enentoFCF), BLUE, 'y', 2),
  line(LBL_NOM, pts(nominalT, nominalRate), RED, 'y2', 1)
], {
  x: xAxis(57),
  y: yAxis('left', fcfTicks, 181, 'Enento FCF (%)', 30),
  y2: yAxis('right', nominalTicks, 190, null)
}, {top: 0, left: 0, right: 0, bottom: 0}, 'Enento vs. Nominal Interest rate');

// Top-right
makeChart('c2', [
  line(LBL_ENENTO, pts(enentoT, enentoFCF), BLUE, 'y', 2),
  line(LBL_REAL, pts(realT, realRate), GREEN, 'y2', 1, {stepped: true})
], {
  x: xAxis(57),
  y: yAxis('left', fcfTicks, 162, 'Enento FCF (%)', 12),
  y2: yAxis('right', realTicks, 208, null)
}, {top: 0, left: 0, right: 0, bottom: 0}, 'Enento vs. Real Interest rate');

// Bottom-left
makeChart('c3', [
  line('Spread', pts(spreadNomT, spreadNom), GRAY, 'y', 2),
  line('Spread ref', [{x: xRange[0], y: spreadNomRef}, {x: xRange[1], y: spreadNomRef}], GRAY, 'y', 1, {borderDash: [18.5, 8], borderCapStyle: 'butt'})
], {
  x: xAxis(93),
  y: yAxis('left', spreadNomTicks, 181, 'Spread (%)', 30)
}, {top: 50, left: 0, right: 190, bottom: 0}, null);

// Bottom-right
makeChart('c4', [
  line('Spread', pts(spreadRealT, spreadReal), GRAY, 'y', 2),
  line('Spread ref', [{x: xRange[0], y: spreadRealRef}, {x: xRange[1], y: spreadRealRef}], GRAY, 'y', 1, {borderDash: [18.5, 8], borderCapStyle: 'butt'})
], {
  x: xAxis(93),
  y: yAxis('left', spreadRealTicks, 162, 'Spread (%)', 12)
}, {top: 50, left: 0, right: 208, bottom: 0}, null);

// ---------- legends and right-axis labels (HTML text) ----------
const fig = document.getElementById('fig');
function legend(left, top, width, color, text) {
  const d = document.createElement('div');
  d.className = 'leg';
  d.style.left = left + 'px'; d.style.top = top + 'px'; d.style.width = width + 'px'; d.style.height = '60px';
  const l = document.createElement('div'); l.className = 'ln';
  l.style.left = '9px'; l.style.width = '70px'; l.style.background = color;
  const t = document.createElement('div'); t.className = 'tx'; t.style.left = '105px'; t.textContent = text;
  d.appendChild(l); d.appendChild(t); fig.appendChild(d);
}
legend(197, 586, 239, BLUE, LBL_ENENTO);
legend(546, 586, 447, RED, LBL_NOM);
legend(1380, 586, 237, BLUE, LBL_ENENTO);
legend(1799, 586, 377, GREEN, LBL_REAL);
function rlabel(cx, cy, text) {
  const d = document.createElement('div'); d.className = 'rlab';
  d.style.left = cx + 'px'; d.style.top = cy + 'px'; d.textContent = text; fig.appendChild(d);
}
rlabel(1163, 375, 'Germany 10yr Nominal Interest rate (%)');
rlabel(2345, 375, 'Germany 10yr Real Interest rate (%)');
</script>
</body></html>
